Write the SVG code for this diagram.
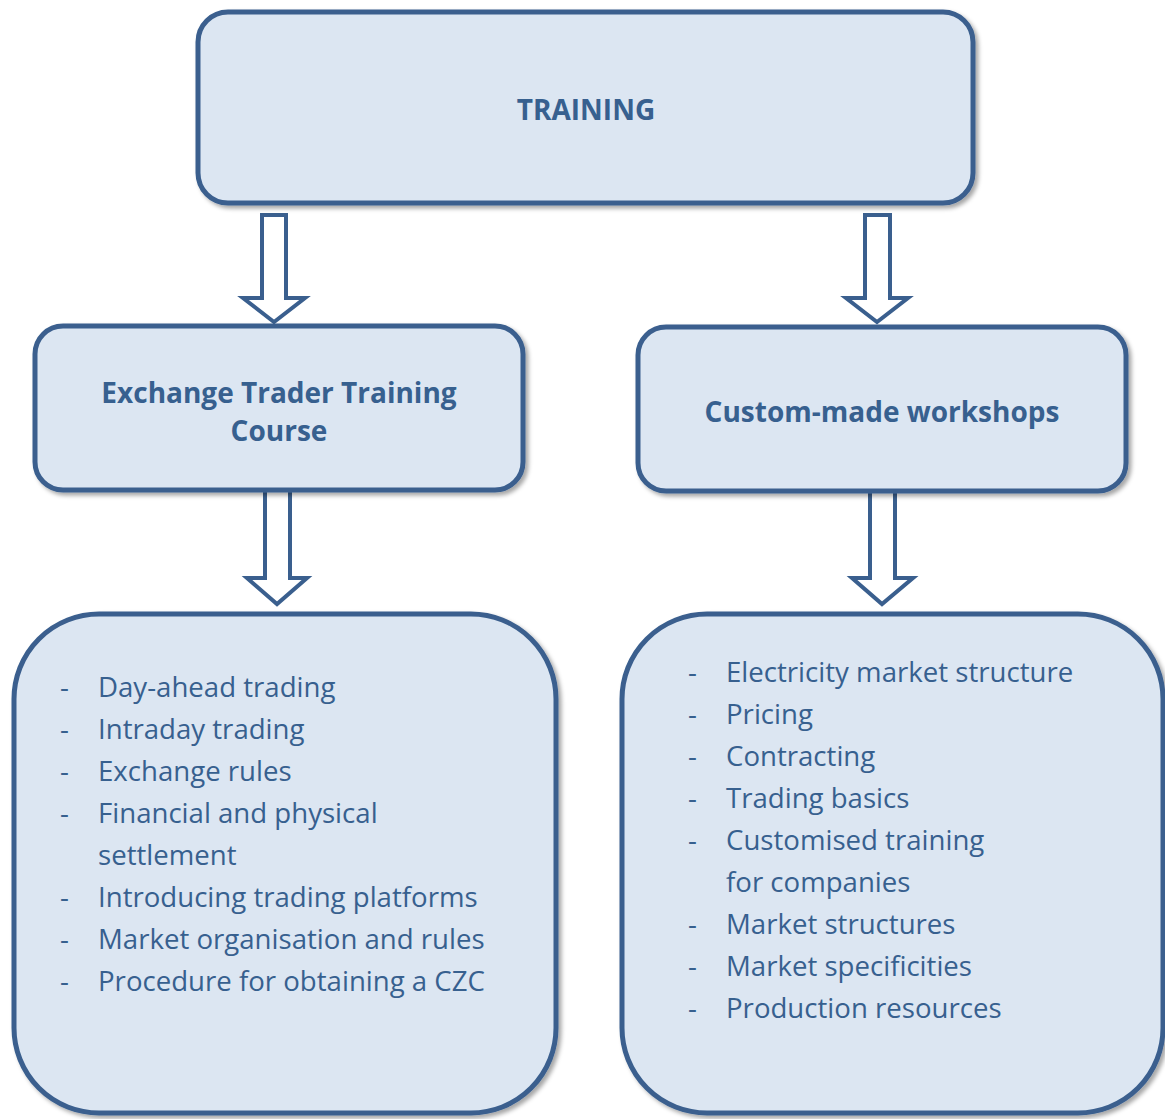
<svg xmlns="http://www.w3.org/2000/svg" width="1165" height="1119" viewBox="0 0 1165 1119">
  <defs>
    <filter id="shadow" x="-5%" y="-5%" width="112%" height="115%">
      <feDropShadow dx="3" dy="3" stdDeviation="2.2" flood-color="#000" flood-opacity="0.35"/>
    </filter>
    <style>
      .box { fill: #dce6f2; stroke: #3a5f8e; stroke-width: 5; filter: url(#shadow); }
      .arrow { fill: #ffffff; stroke: #3a5f8e; stroke-width: 4; stroke-linejoin: miter; }
      .title { font-family: "Open Sans", "Noto Sans", sans-serif; font-weight: bold; font-size: 28px; fill: #37608f; text-anchor: middle; }
      .item { font-family: "Open Sans", "Noto Sans", sans-serif; font-size: 27.6px; fill: #37608f; }
    </style>
  </defs>
  <rect width="1165" height="1119" fill="#ffffff"/>

  <!-- block arrows between levels -->
  <g id="connectors">
    <polygon class="arrow" points="262,215 286,215 286,298 305,298 274,322 243,298 262,298"/>
    <polygon class="arrow" points="865,215 890,215 890,298 908,298 877,322 846,298 865,298"/>
    <polygon class="arrow" points="265,490 290,490 290,578 307,578 277,604 247,578 265,578"/>
    <polygon class="arrow" points="870,490 895,490 895,578 913,578 882,604 852,578 870,578"/>
  </g>

  <g id="training">
    <rect class="box" x="198" y="12" width="775" height="191" rx="30"/>
    <text class="title" x="586" y="120">TRAINING</text>
  </g>

  <g id="exchange-course">
    <rect class="box" x="35" y="326" width="488" height="164" rx="28"/>
    <text class="title" x="279" y="403">Exchange Trader Training</text>
    <text class="title" x="279" y="441">Course</text>
  </g>

  <g id="workshops">
    <rect class="box" x="638" y="327" width="488" height="164" rx="28"/>
    <text class="title" x="882" y="422">Custom-made workshops</text>
  </g>

  <g id="course-topics">
    <rect class="box" x="14" y="614" width="542" height="499" rx="85"/>
    <g class="item">
      <text x="60" y="697">-</text><text x="98" y="697">Day-ahead trading</text>
      <text x="60" y="739">-</text><text x="98" y="739">Intraday trading</text>
      <text x="60" y="781">-</text><text x="98" y="781">Exchange rules</text>
      <text x="60" y="823">-</text><text x="98" y="823">Financial and physical</text>
      <text x="98" y="865">settlement</text>
      <text x="60" y="907">-</text><text x="98" y="907">Introducing trading platforms</text>
      <text x="60" y="949">-</text><text x="98" y="949">Market organisation and rules</text>
      <text x="60" y="991">-</text><text x="98" y="991">Procedure for obtaining a CZC</text>
    </g>
  </g>

  <g id="workshop-topics">
    <rect class="box" x="622" y="614" width="541" height="499" rx="85"/>
    <g class="item">
      <text x="688" y="682">-</text><text x="726" y="682">Electricity market structure</text>
      <text x="688" y="724">-</text><text x="726" y="724">Pricing</text>
      <text x="688" y="766">-</text><text x="726" y="766">Contracting</text>
      <text x="688" y="808">-</text><text x="726" y="808">Trading basics</text>
      <text x="688" y="850">-</text><text x="726" y="850">Customised training</text>
      <text x="726" y="892">for companies</text>
      <text x="688" y="934">-</text><text x="726" y="934">Market structures</text>
      <text x="688" y="976">-</text><text x="726" y="976">Market specificities</text>
      <text x="688" y="1018">-</text><text x="726" y="1018">Production resources</text>
    </g>
  </g>
</svg>
